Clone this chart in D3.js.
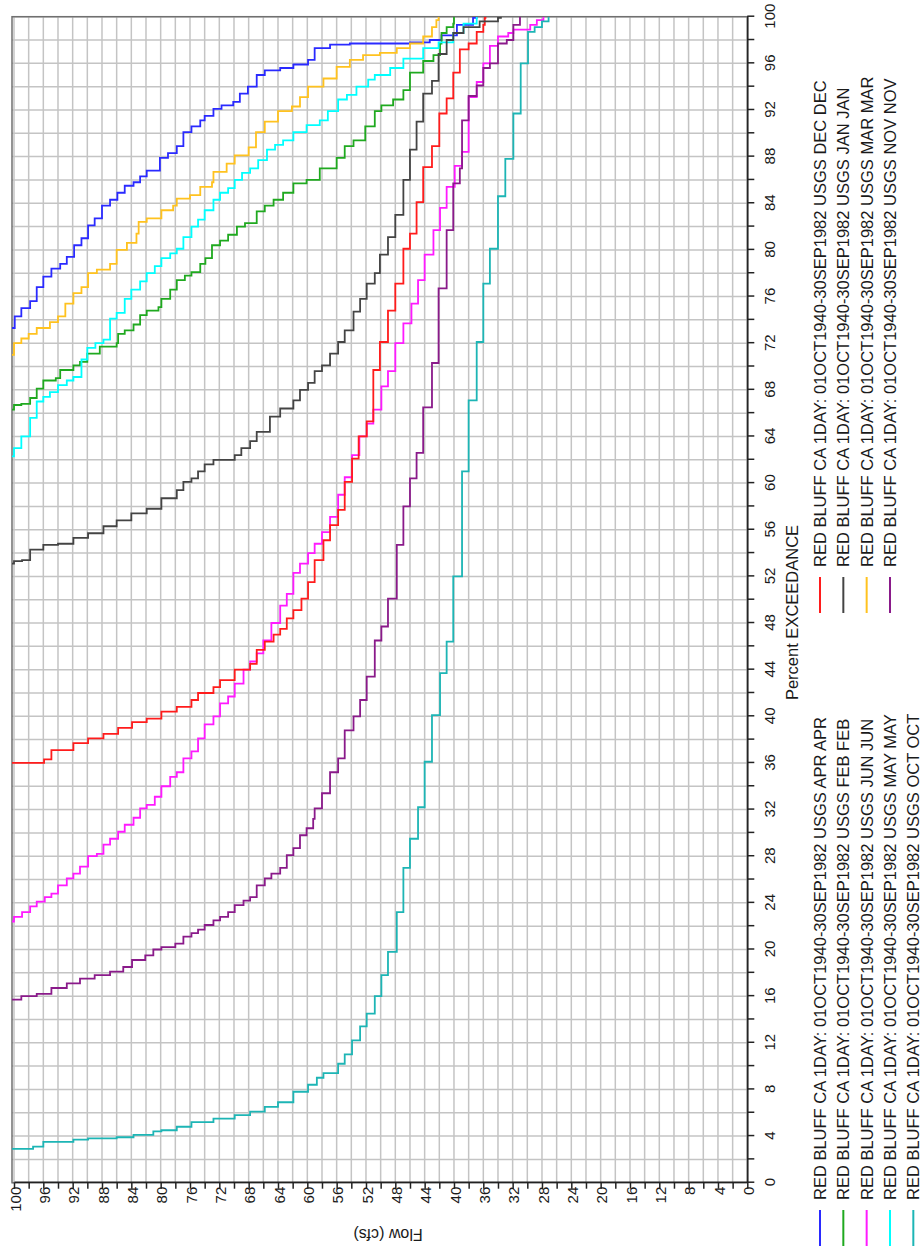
<!DOCTYPE html>
<html>
<head>
<meta charset="utf-8">
<script src="https://cdn.jsdelivr.net/npm/d3@7"></script>
<style>
  body { margin: 0; background: #fff; }
  svg { display: block; font-family: "Liberation Sans", Arial, sans-serif; }
</style>
</head>
<body>
<script>
// flow duration curves, [percent exceedance, flow]
const apr = [[73.3,100.4],[74.3,99.9],[75,99],[75.6,97.8],[76.8,96.9],[77.7,96],[78.4,94.9],[78.8,93.7],[79.4,92.8],[80.4,91.8],[81,90.8],[82.1,89.9],[82.7,89],[83.8,88],[84.3,86.9],[84.9,85.9],[85.5,84.9],[85.8,83.7],[86.3,82.8],[86.8,81.9],[87.9,80.1],[88.3,79],[88.9,77.8],[90.1,76.9],[90.6,75.8],[91.1,74.6],[91.5,74],[92.1,72.8],[92.4,71.7],[92.7,70.1],[93.4,69.2],[94,68.1],[95,66.9],[95.4,65.8],[95.6,63.7],[95.9,61.9],[96.3,59.9],[97.3,59],[97.6,56.9],[97.7,54.2],[97.8,46],[98,43.3],[98.4,41.7],[99.3,39.6],[99.9,37.4],[100,36.9]];
const feb = [[66.3,100.4],[66.7,100],[66.8,99],[67.3,97.8],[68.1,96.9],[68.8,96],[69,94.3],[69.7,93.7],[70.1,91.9],[70.4,91],[71.1,90],[71.7,88.3],[72,86],[72.8,85.8],[73.1,84.9],[73.6,83.7],[74.4,82.8],[74.8,81.9],[75.1,80.3],[75.8,79.9],[76.6,78.7],[77.4,77.8],[77.8,76.7],[78.1,75.8],[78.8,74.6],[79.3,73.9],[80.4,73],[80.8,71.9],[81.3,70.8],[82,69.6],[82.3,68.5],[83.3,66.9],[83.8,65.8],[84.3,64.6],[84.9,63.3],[85.7,61.9],[86,60.1],[87,58.3],[87.9,56],[88.9,54.9],[89.4,53.7],[90.6,52.1],[91.9,50.8],[92.4,49.9],[92.9,48.3],[93.7,46.9],[95.2,46],[96.2,44.2],[96.7,42.8],[97.7,41.9],[98.6,41.7],[99.1,41],[99.4,40.1],[100,40]];
const jun = [[22.4,100.4],[22.8,100],[23.2,98.9],[23.7,97.8],[24.1,96.9],[24.5,95.8],[24.8,94.9],[25.5,94],[26.1,92.8],[26.5,91.9],[27.1,91],[28,89.9],[28.2,88.7],[29,87.8],[29.5,86.9],[30.1,85.8],[30.7,84.9],[31.3,83.7],[32.1,82.8],[32.4,81.9],[33.1,80.8],[34,79.9],[34.8,78.7],[35.2,77.8],[36.4,76.9],[37,75.8],[38.1,74.9],[39.3,74],[40,72.8],[41.1,71.9],[41.7,70.8],[42.8,69.9],[44,68.7],[44.7,67.8],[45.4,66.9],[46.5,66],[48,64.9],[49.5,63.7],[50.5,62.8],[52.3,61.9],[53.1,61],[54,59.9],[54.8,59],[55.8,58],[57.1,56.9],[59,55.8],[60.5,54.9],[62.4,53.9],[64,52.9],[65.1,51.9],[66.3,51],[68.3,49.9],[69.6,49],[72,48],[73.7,46.9],[75.4,45.8],[77.4,44.9],[79.6,44],[81.7,42.8],[83.6,41.9],[85.4,41],[87.2,39.9],[88.4,38.9],[93.1,38],[94.4,36.9],[96,36],[97.5,35.1],[98.3,34],[98.6,32.6],[98.9,31.9],[99.3,29.6],[99.7,28.7],[100,27.8]];
const may = [[62.3,100.4],[63,100],[64,99],[65.6,97.8],[67,96.9],[67.4,96],[67.8,95.1],[68.4,94],[68.8,92.8],[69.1,91.9],[70.6,90.8],[71.6,90],[72,88.9],[72.3,87.8],[74.1,86.9],[74.6,86],[75.8,84.9],[76.6,84],[77.3,82.8],[78,81.9],[78.6,80.8],[79.3,79.9],[79.7,78.7],[80.1,77.8],[81.1,76.9],[82,75.8],[82.6,74.9],[83.4,74],[84.3,72.8],[84.9,71.9],[85.3,70.8],[86,69.9],[86.6,68.9],[87,67.8],[87.7,66.7],[88.6,65.5],[89,64.4],[89.4,63.3],[90.1,61.9],[90.7,60.1],[91.1,58.3],[91.9,57.2],[92.9,55.8],[93.3,54.6],[94,53.3],[94.6,51.7],[95,50.8],[95.6,48.7],[96.4,46.9],[97.3,44.2],[97.8,42.1],[98.6,40.1],[99.4,38.7],[100,36.9]];
const oct = [[2.9,100.4],[3.1,97.4],[3.5,96],[3.7,91.9],[3.8,89.9],[3.9,86],[4.1,83.7],[4.4,81],[4.5,79.9],[4.8,77.8],[5.2,75.8],[5.5,72.8],[5.8,69.9],[6.1,67.8],[6.5,65.8],[6.9,64],[7.8,61.9],[8.4,59.9],[9,58.7],[9.4,57.8],[10.2,55.8],[11,54.9],[12.2,53.9],[13.4,52.8],[14.5,51.9],[16,50.8],[17.8,49.9],[19.8,49],[23.2,47.8],[27,46.9],[29.5,46],[32.2,44.9],[36.1,44],[40.1,43],[43.7,41.9],[46.4,41],[52,40.1],[61,38.9],[67.1,38],[72.1,36.9],[77.1,36],[80.1,35.1],[84.6,34],[87.8,33],[91.7,31.9],[96,30.9],[98.7,29.9],[99.1,29],[99.6,28],[100,27.1]];
const dec = [[36,100.4],[36.3,95.9],[37.1,94.9],[37.7,91.9],[38.1,89.9],[38.5,87.8],[39,85.8],[39.5,83.9],[39.8,81.9],[40.4,79.9],[40.8,77.8],[41.4,75.8],[42,74.9],[42.5,72.8],[43.1,71.9],[44,69.9],[44.5,67.8],[45.7,66.9],[46.4,65.8],[47,64.6],[47.5,63.7],[48.4,62.8],[49.1,61.9],[50.1,60.8],[51.5,59.9],[53.4,59],[55.1,57.8],[56.4,56.9],[57.7,55.8],[60.1,54.9],[62.1,53.9],[64,53],[65.3,51.9],[69.7,51],[72.1,50.1],[74.8,49],[77.1,48],[80.1,46.9],[81.4,46],[84.1,45.1],[87.1,44.2],[88.9,43],[91.7,42],[93,41],[95.2,40.1],[97.2,39.2],[97.7,38],[98.7,36.9],[99.3,36],[99.9,35.8],[100,35.7]];
const jan = [[53.1,100.4],[53.3,100],[53.4,98.9],[54.3,97.8],[54.7,96],[54.8,94],[55.3,91.9],[55.7,89.9],[56.3,87.8],[56.8,86],[57.4,84],[57.8,81.9],[58.7,79.9],[59.4,77.8],[60.1,76.9],[60.4,75.8],[61,74.9],[61.6,74],[62,72.8],[62.4,69.9],[63,69],[63.6,67.8],[64.4,66.9],[65.7,65.1],[66.4,63.7],[67.1,61.9],[68,61],[68.6,59.9],[69.6,59],[70.1,58],[71.1,56.9],[72.1,55.8],[73.1,54.9],[74.7,53.7],[75.8,52.8],[77.1,51.9],[78,50.8],[79.6,50.1],[81.1,49],[83,48],[86,46.9],[88.6,46],[91,45.1],[93.4,44.2],[94.5,43],[96.8,42.1],[98,41],[98.6,40.1],[99.1,38.7],[99.6,36.5],[99.9,34],[100,33.6]];
const mar = [[71,100.4],[72,100],[72.4,99],[72.8,98],[73.3,96.9],[73.8,95.1],[74.3,94],[75.4,93],[76.3,91.9],[76.8,90.8],[78,89.9],[78.3,88.7],[78.8,86.9],[80,86],[80.6,84.6],[81.4,83.3],[82.4,83],[82.7,81.9],[83.4,79.9],[83.8,78.3],[84.4,77.8],[84.7,76],[85.4,74.6],[85.8,73],[86.7,72.8],[87.4,71],[88.1,69.9],[88.8,68],[90.1,67],[91,65.8],[91.9,64],[92.3,62.1],[93.1,61],[94,59.9],[94.7,57.8],[95.7,56],[96.3,54.2],[96.7,52.4],[96.9,50.1],[97.3,47.8],[97.7,46],[98.3,44.2],[99.1,43],[99.7,42.4],[100,42.1]];
const nov = [[15.7,100.4],[16,99],[16.2,96.9],[16.7,94.9],[17.1,92.8],[17.5,91],[17.8,89],[18.1,86.9],[18.5,85.1],[19.1,83.9],[19.5,82.1],[20,81],[20.2,79.9],[20.5,78],[21.1,76.9],[21.4,75.8],[21.7,74.9],[22.1,74],[22.5,72.8],[22.8,71.9],[23.2,70.8],[23.8,69.9],[24.2,68.7],[24.5,67.8],[25.5,66.9],[26.1,65.8],[26.5,64.9],[27,63.7],[28.1,62.8],[28.7,61.9],[29.8,61],[30.4,60.1],[31.2,59.2],[32.1,59],[33.4,58],[35.2,56.9],[36.4,55.8],[38.8,54.9],[40,53.7],[41.4,52.8],[43.4,51.9],[46.5,50.8],[47.7,49.9],[50.1,49],[54.7,47.8],[58,46.9],[60.4,46],[62.6,45.1],[66.5,44.2],[70.3,43],[76.7,42.1],[81.7,41],[85.7,40.1],[87,39.2],[91.1,38.9],[93.2,38],[94.1,36.9],[95.6,36],[96,35.1],[97.7,34],[98,32.8],[99.3,31.9],[100,31]];

const prefix = "RED BLUFF CA 1DAY: 01OCT1940-30SEP1982 USGS ";
const months = ["APR", "FEB", "JUN", "MAY", "OCT", "DEC", "JAN", "MAR", "NOV"];
const colors = ["#2a2aff", "#1fa91f", "#ff1aff", "#00ffff", "#1db5b5", "#ff1c1c", "#444444", "#ffc21f", "#8a1a8a"];
const curves = [apr, feb, jun, may, oct, dec, jan, mar, nov];
const pctTicks = d3.range(0, 101, 2);
const flowTicks = d3.range(0, 101, 2);

const W = 924, H = 1247;
const svg = d3.select("body").append("svg")
  .attr("width", W)
  .attr("height", H);

// the chart is printed lying on its side: build it upright and turn it
const g = svg.append("g").attr("transform", "translate(0," + H + ") rotate(-90)");

const pLeft = 64.3, pRight = 1230.3, pTop = 12, pBottom = 747.3;

const x = d3.scaleLinear().domain([0, 100]).range([pLeft, pRight]);
const y = d3.scaleLinear().domain([0, 100]).range([pBottom, 14]);

g.append("clipPath").attr("id", "plotclip")
  .append("rect")
  .attr("x", pLeft).attr("y", pTop)
  .attr("width", pRight - pLeft).attr("height", pBottom - pTop);

// grid
g.append("g").selectAll("line")
  .data(pctTicks)
  .enter().append("line")
  .attr("x1", d => x(d)).attr("x2", d => x(d))
  .attr("y1", pTop).attr("y2", pBottom)
  .attr("stroke", "#c4c4c4").attr("stroke-width", 1.5);

g.append("g").selectAll("line")
  .data(flowTicks)
  .enter().append("line")
  .attr("x1", pLeft).attr("x2", pRight)
  .attr("y1", d => y(d)).attr("y2", d => y(d))
  .attr("stroke", "#c4c4c4").attr("stroke-width", 1.5);

g.append("rect")
  .attr("x", pLeft).attr("y", pTop)
  .attr("width", pRight - pLeft).attr("height", pBottom - pTop)
  .attr("fill", "none")
  .attr("stroke", "#707070")
  .attr("stroke-width", 1.5);

const line = d3.line()
  .x(d => x(d[0]))
  .y(d => y(d[1]))
  .curve(d3.curveStepBefore);

g.append("g").attr("clip-path", "url(#plotclip)")
  .selectAll("path")
  .data(curves)
  .enter().append("path")
  .attr("d", d => line(d))
  .attr("fill", "none")
  .attr("stroke", (d, i) => colors[i])
  .attr("stroke-width", 1.8);

// axes
const xAxis = d3.axisBottom(x)
  .tickValues(pctTicks)
  .tickSize(7)
  .tickSizeOuter(0)
  .tickPadding(10)
  .tickFormat(d => d % 4 === 0 ? d : "");

const gx = g.append("g")
  .attr("transform", "translate(0," + pBottom + ")")
  .call(xAxis);

const yAxis = d3.axisLeft(y)
  .tickValues(flowTicks)
  .tickSize(6)
  .tickSizeOuter(0)
  .tickFormat(d => d % 4 === 0 ? d : "");

const gy = g.append("g")
  .attr("transform", "translate(" + pLeft + ",0)")
  .call(yAxis);
gy.selectAll("text").attr("x", -4).attr("dy", "0.42em");

[gx, gy].forEach(a => {
  a.select(".domain").attr("stroke", "#222").attr("stroke-width", 1.5);
  a.selectAll(".tick line").attr("stroke", "#222").attr("stroke-width", 1.5);
  a.selectAll("text")
    .attr("fill", "#1a1a1a")
    .style("font-size", "15px")
    .style("font-family", "'Liberation Sans', Arial, sans-serif");
});

g.append("text")
  .attr("x", 634.5).attr("y", 798)
  .attr("text-anchor", "middle")
  .attr("fill", "#1a1a1a")
  .style("font-size", "16.5px")
  .text("Percent EXCEEDANCE");

g.append("text")
  .attr("transform", "translate(18,388) rotate(-90)")
  .attr("text-anchor", "middle")
  .attr("fill", "#1a1a1a")
  .style("font-size", "16px")
  .text("Flow (cfs)");

// legend, two columns
const legend = g.append("g")
  .selectAll("g")
  .data(months)
  .enter().append("g")
  .attr("transform", (d, i) => {
    const col = i < 5 ? 0 : 1;
    const row = i < 5 ? i : i - 5;
    return "translate(" + (1 + col * 633) + "," + (820 + row * 23.33) + ")";
  });

legend.append("line")
  .attr("x1", 0).attr("x2", 36)
  .attr("y1", 0).attr("y2", 0)
  .attr("stroke", (d, i) => colors[i])
  .attr("stroke-width", 2);

legend.append("text")
  .attr("x", 46).attr("y", 0)
  .attr("dy", "0.36em")
  .attr("fill", "#1a1a1a")
  .style("font-size", "16.5px")
  .text(d => prefix + d + " " + d);
</script>
</body>
</html>
